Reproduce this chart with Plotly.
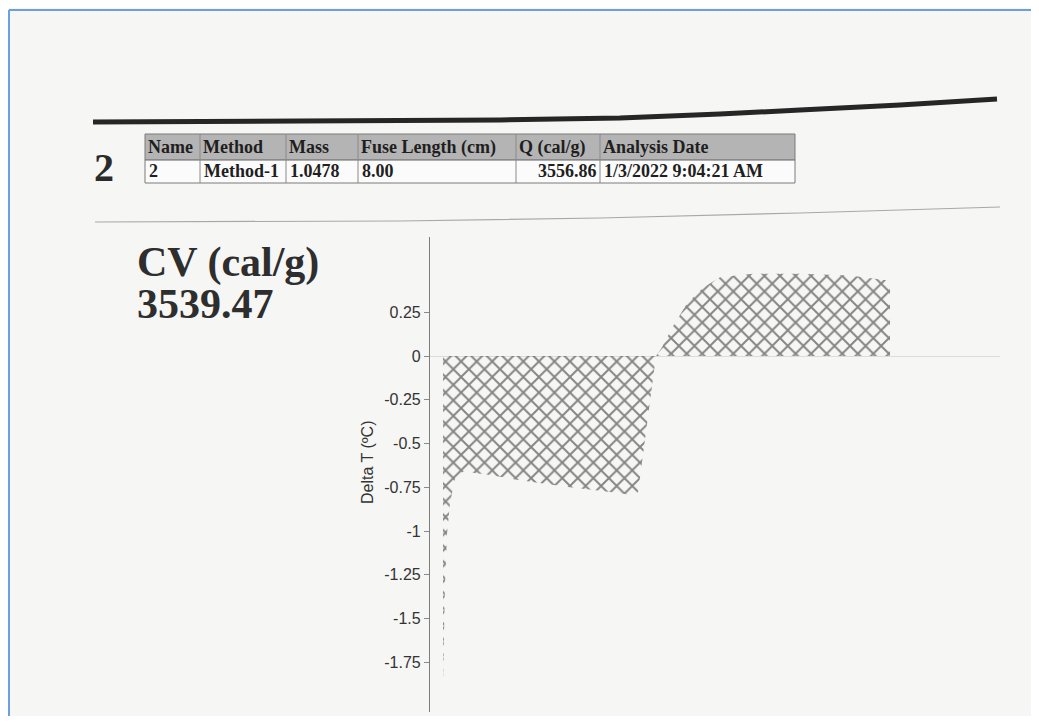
import plotly.graph_objects as go

# window is 1039x724; the page body adds an 8px margin, so the figure is sized to fit inside
OX, OY = 8, 8
FW, FH = 1039 - 2 * OX, 724 - 2 * OY

# ---- data ----
time_s = [13, 15, 17, 20, 25, 33, 60, 90, 140, 170, 197, 208,
          226, 232, 243, 257, 273, 290, 323, 370, 420, 460]
delta_t = [-1.88, -1.30, -1.02, -0.84, -0.70, -0.66, -0.68, -0.71, -0.75, -0.77, -0.79, -0.78,
           0.0, 0.05, 0.17, 0.30, 0.39, 0.45, 0.47, 0.47, 0.46, 0.43]

y_tick_vals = [0.25, 0, -0.25, -0.5, -0.75, -1, -1.25, -1.5, -1.75]
y_tick_text = ["0.25", "0", "-0.25", "-0.5", "-0.75", "-1", "-1.25", "-1.5", "-1.75"]
y_title = "Delta T (ºC)"

table_header = ["Name", "Method", "Mass", "Fuse Length (cm)", "Q (cal/g)", "Analysis Date"]
table_row = ["2", "Method-1", "1.0478", "8.00", "3556.86", "1/3/2022 9:04:21 AM"]
sample_no = "2"
cv_label = "CV (cal/g)"
cv_value = "3539.47"

# ---- layout helpers (window pixel -> paper) ----
def px(x):
    return (x - OX) / FW

def py(y):
    return 1 - (y - OY) / FH

BG = "#f6f6f4"
SERIF = "Liberation Serif"
SANS = "Liberation Sans"

fig = go.Figure()
fig.add_trace(go.Scatter(
    x=time_s, y=delta_t, mode="none", fill="tozeroy",
    fillcolor="rgba(0,0,0,0)",
    fillpattern=dict(shape="x", size=11, solidity=0.32, fgcolor="#141414",
                     bgcolor="rgba(0,0,0,0)", fillmode="overlay"),
    showlegend=False, hoverinfo="skip"))

plot_top, plot_bot, zero_px, unit_px = 237, 712, 356, 175.0
fig.update_layout(
    width=FW, height=FH, margin=dict(l=0, r=0, t=0, b=0),
    paper_bgcolor=BG, plot_bgcolor=BG, showlegend=False,
    xaxis=dict(domain=[px(430), px(1000)], range=[0, 570], visible=False),
    yaxis=dict(domain=[py(plot_bot), py(plot_top)],
               range=[-(plot_bot - zero_px) / unit_px, (zero_px - plot_top) / unit_px],
               tickvals=y_tick_vals, ticktext=y_tick_text,
               ticks="outside", ticklen=5, tickcolor="#8a8a8a",
               showline=True, linecolor="#7d7d7d", linewidth=1.2,
               showgrid=False, zeroline=True, zerolinecolor="#dcdcdc", zerolinewidth=1,
               tickfont=dict(family=SANS, size=16, color="#333333")),
)

shapes = []
# blue frame of the screenshot
shapes.append(dict(type="line", xref="paper", yref="paper", x0=px(9), x1=1, y0=py(10), y1=py(10),
                   line=dict(color="#6a9fe0", width=2)))
shapes.append(dict(type="line", xref="paper", yref="paper", x0=px(9), x1=px(9), y0=py(10), y1=0,
                   line=dict(color="#6a9fe0", width=2)))

def path(points):
    s = "M {:.5f},{:.5f}".format(px(points[0][0]), py(points[0][1]))
    for (x, y) in points[1:]:
        s += " L {:.5f},{:.5f}".format(px(x), py(y))
    return s

# thick black rule
shapes.append(dict(type="path", xref="paper", yref="paper",
                   path=path([(93, 122), (300, 121), (500, 120), (620, 118), (720, 114),
                              (800, 110), (900, 105), (997, 99)]),
                   line=dict(color="#262626", width=5)))
# thin grey rule
shapes.append(dict(type="path", xref="paper", yref="paper",
                   path=path([(95, 222), (400, 221), (600, 218), (800, 213), (1000, 207)]),
                   line=dict(color="#a8a8a8", width=1.2)))

# table
col_edges = [145, 200, 286, 358, 516, 600, 795]
row_top, row_mid, row_bot = 134, 160, 183
shapes.append(dict(type="rect", xref="paper", yref="paper",
                   x0=px(col_edges[0]), x1=px(col_edges[-1]), y0=py(row_mid), y1=py(row_top),
                   fillcolor="#b4b4b4", line=dict(color="#7a7a7a", width=1)))
shapes.append(dict(type="rect", xref="paper", yref="paper",
                   x0=px(col_edges[0]), x1=px(col_edges[-1]), y0=py(row_bot), y1=py(row_mid),
                   fillcolor="rgba(255,255,255,0.6)", line=dict(color="#7a7a7a", width=1)))
for e in col_edges[1:-1]:
    shapes.append(dict(type="line", xref="paper", yref="paper", x0=px(e), x1=px(e),
                       y0=py(row_bot), y1=py(row_top), line=dict(color="#8a8a8a", width=1)))

annotations = []
tfont = dict(family=SERIF, size=18, color="#1f1f1f")
for i, txt in enumerate(table_header):
    annotations.append(dict(xref="paper", yref="paper", x=px(col_edges[i] + 1), y=py((row_top + row_mid) / 2),
                            text="<b>%s</b>" % txt, showarrow=False, xanchor="left", yanchor="middle",
                            font=tfont))
for i, txt in enumerate(table_row):
    if i == 4:
        annotations.append(dict(xref="paper", yref="paper", x=px(col_edges[i + 1] - 1),
                                y=py((row_mid + row_bot) / 2), text="<b>%s</b>" % txt, showarrow=False,
                                xanchor="right", yanchor="middle", font=tfont))
    else:
        annotations.append(dict(xref="paper", yref="paper", x=px(col_edges[i] + 2),
                                y=py((row_mid + row_bot) / 2), text="<b>%s</b>" % txt, showarrow=False,
                                xanchor="left", yanchor="middle", font=tfont))

annotations.append(dict(xref="paper", yref="paper", x=px(104), y=py(167), text="<b>%s</b>" % sample_no,
                        showarrow=False, xanchor="center", yanchor="middle",
                        font=dict(family=SERIF, size=40, color="#2a2a2a")))
annotations.append(dict(xref="paper", yref="paper", x=px(135), y=py(262), text="<b>%s</b>" % cv_label,
                        showarrow=False, xanchor="left", yanchor="middle",
                        font=dict(family=SERIF, size=42, color="#2e2e2e")))
annotations.append(dict(xref="paper", yref="paper", x=px(135), y=py(304), text="<b>%s</b>" % cv_value,
                        showarrow=False, xanchor="left", yanchor="middle",
                        font=dict(family=SERIF, size=42, color="#2e2e2e")))
annotations.append(dict(xref="paper", yref="paper", x=px(367), y=py(462), text=y_title,
                        showarrow=False, textangle=-90, xanchor="center", yanchor="middle",
                        font=dict(family=SANS, size=16, color="#333333")))

fig.update_layout(shapes=shapes, annotations=annotations)
fig.write_html("out.html")
